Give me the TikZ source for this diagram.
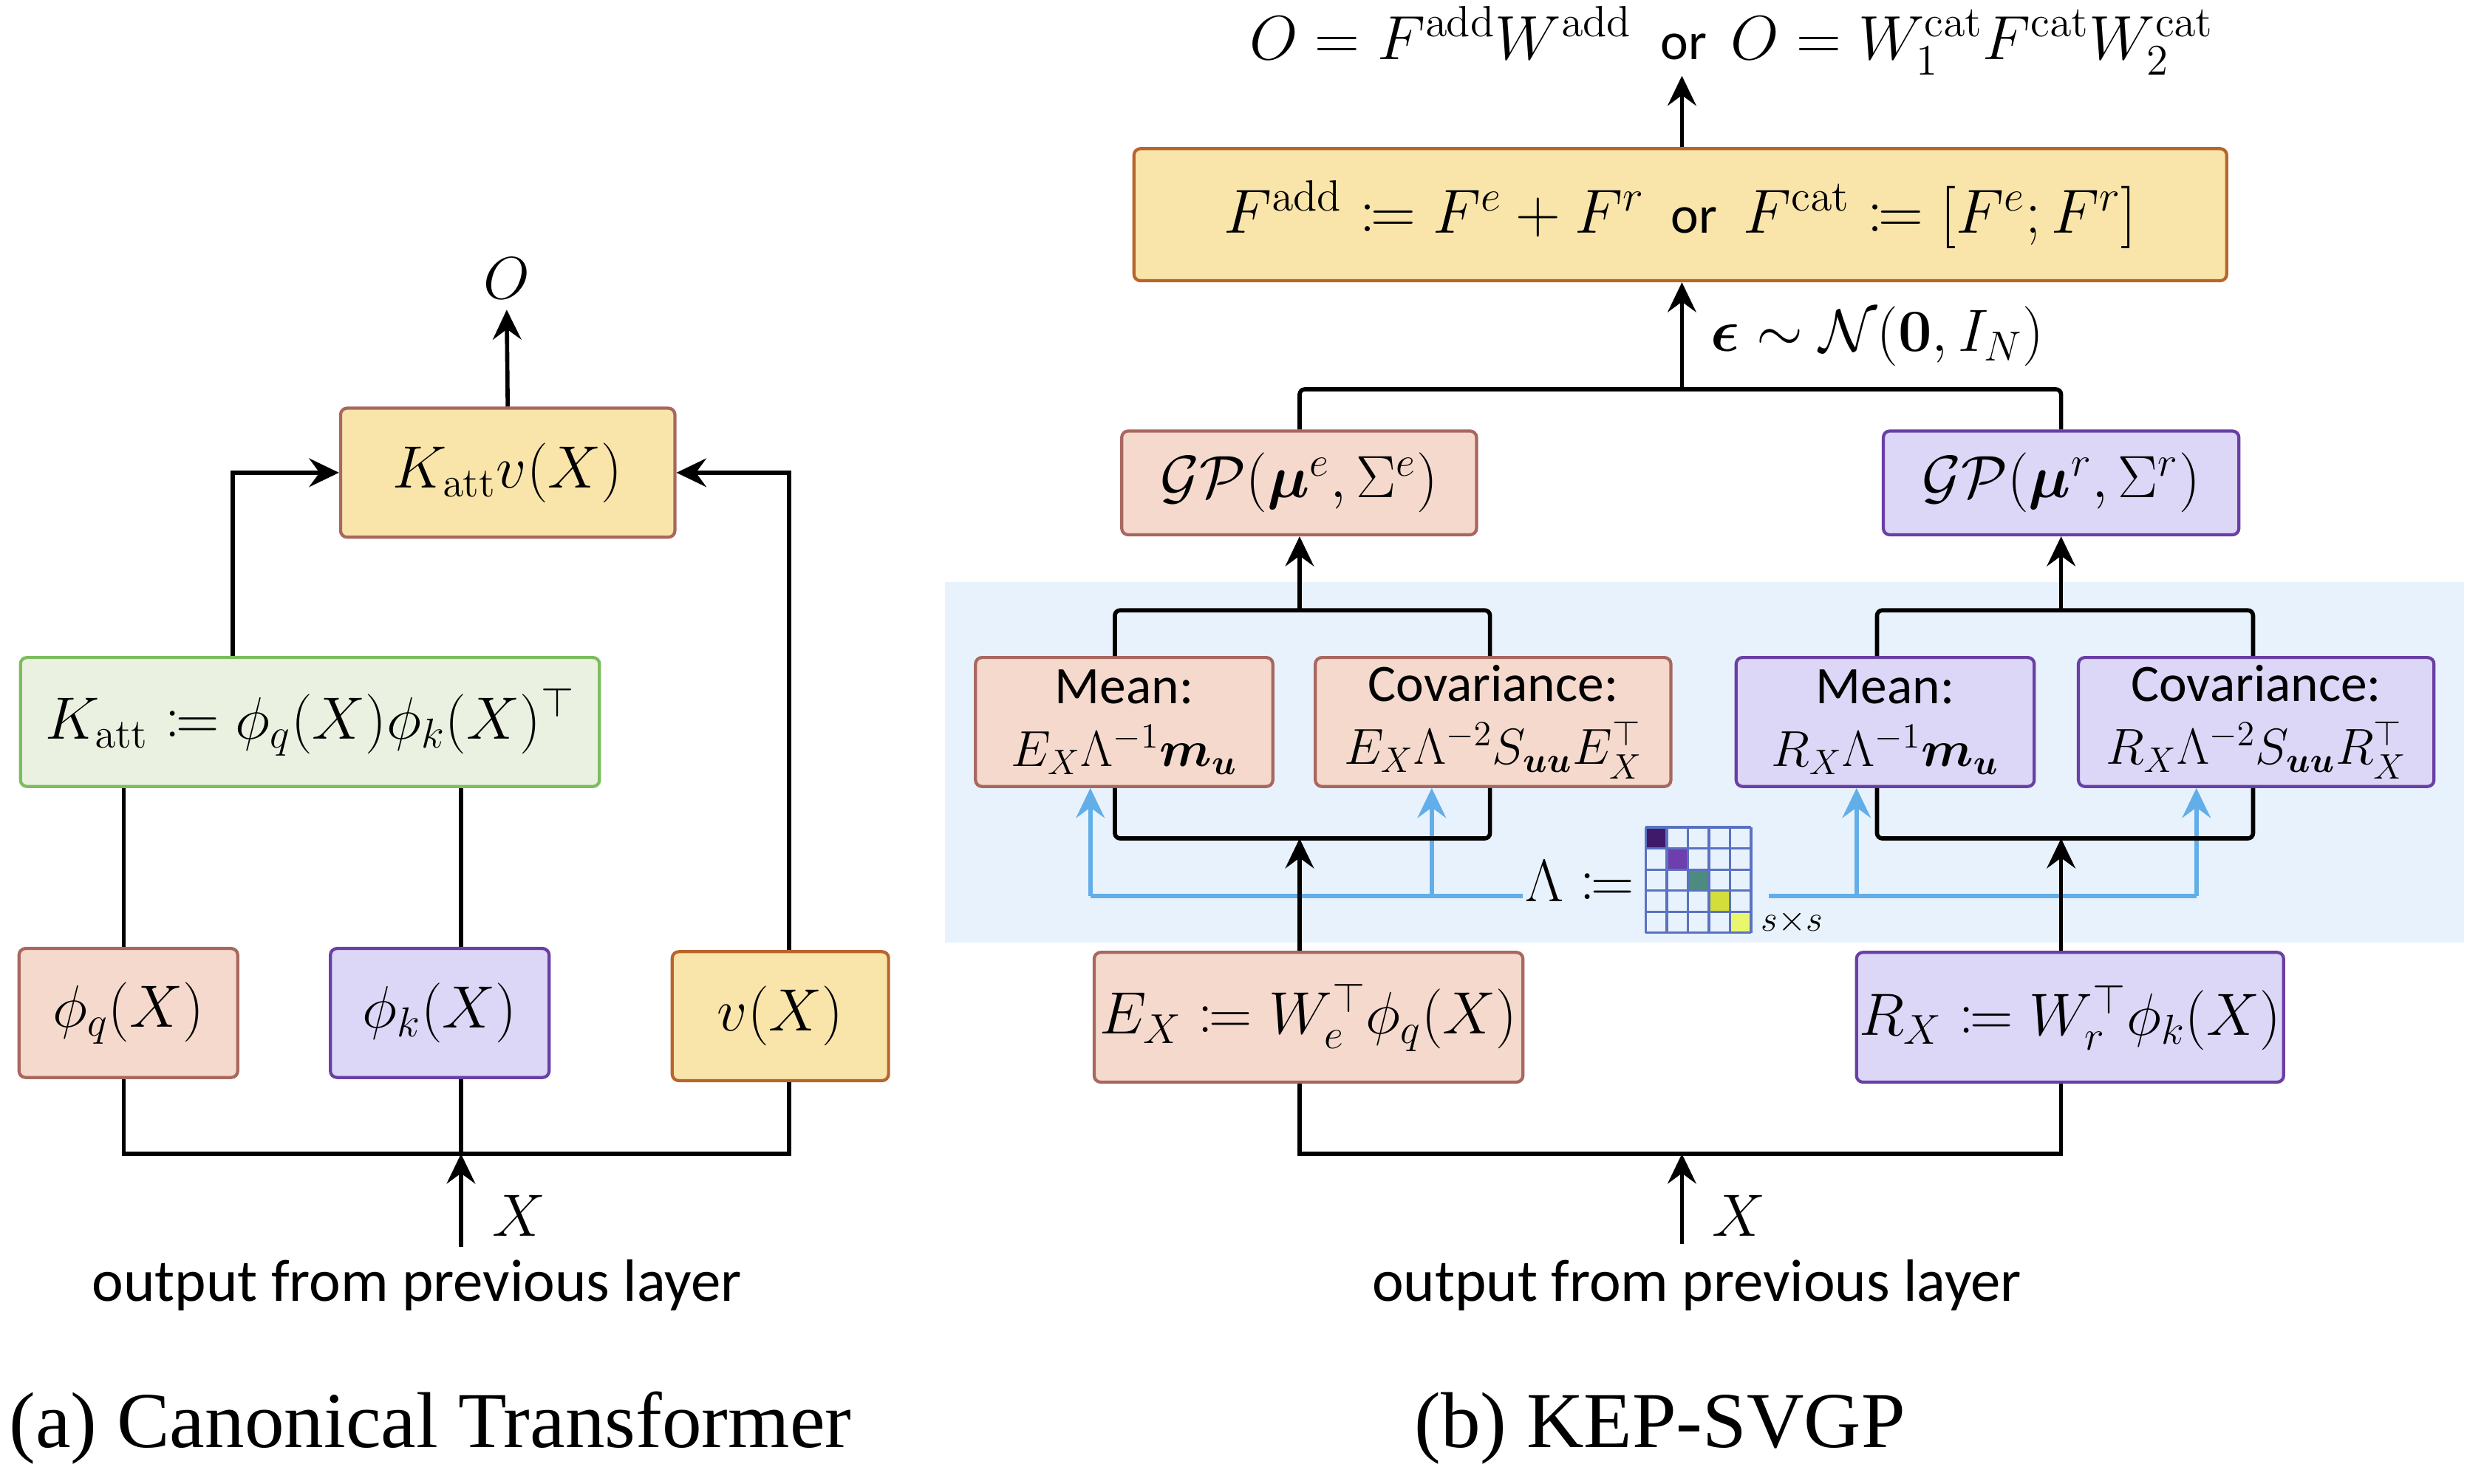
\RequirePackage{fix-cm}
\documentclass[tikz,border=0pt]{standalone}
\usepackage{amsmath,mathtools,bm}
\usepackage[no-math]{fontspec}
\setmainfont{Carlito}
\newfontfamily\capfont{Liberation Serif}
\usetikzlibrary{arrows.meta}
\definecolor{salF}{HTML}{F5D9CD}
\definecolor{salD}{HTML}{A8675F}
\definecolor{lavF}{HTML}{DCD6F7}
\definecolor{lavD}{HTML}{6A3FA5}
\definecolor{yelF}{HTML}{F9E4AA}
\definecolor{orD}{HTML}{B8652C}
\definecolor{grnF}{HTML}{EBF1E1}
\definecolor{grnD}{HTML}{7CBD5E}
\definecolor{bgB}{HTML}{E8F2FC}
\definecolor{lnB}{HTML}{62AEE8}
\definecolor{grdB}{HTML}{5A72C0}
\definecolor{dA}{HTML}{3F1A6B}
\definecolor{dB}{HTML}{6E3DAE}
\definecolor{dC}{HTML}{4E8B7F}
\definecolor{dD}{HTML}{D4DE3A}
\definecolor{dE}{HTML}{EAF76E}
\tikzset{
  sz/.style 2 args={minimum width=#1*0.6056pt, minimum height=#2*0.6056pt},
  box/.style={draw, rounded corners=2.5pt, line width=1.2pt, inner sep=0pt, font=\fontsize{23}{27}\selectfont},
  salbox/.style={box, fill=salF, draw=salD},
  lavbox/.style={box, fill=lavF, draw=lavD},
  yelbox/.style={box, fill=yelF, draw=orD},
  katbox/.style={box, fill=yelF, draw=salD},
  grnbox/.style={box, fill=grnF, draw=grnD},
  twoline/.style={align=center, font=\fontsize{20.3}{24.2}\selectfont},
  mfont/.style={font=\fontsize{23}{27}\selectfont},
  tfont/.style={font=\fontsize{20.3}{24}\selectfont},
  conn/.style={line width=1.6pt, black},
  tip/.tip={Stealth[length=11.5pt,width=11pt,inset=4pt]},
  arr/.style={conn, -tip},
  bline/.style={line width=1.6pt, lnB},
  barr/.style={bline, -tip},
  lbl/.style={inner sep=0pt},
}
\newcommand{\mm}[1]{{\fontsize{24}{28}\selectfont$#1$}}
\newcommand{\ms}[1]{{\fontsize{19.5}{24}\selectfont$#1$}}
\begin{document}
\begin{tikzpicture}[x=0.6056pt,y=-0.6056pt]
\useasboundingbox (0,0) rectangle (1568,943.4);
% ---------- (a) ----------
\node[katbox, sz={212.5}{82}] (katt) at (322.7,300.5) {$K_{\mathrm{att}}v(X)$};
\node[lbl, mfont] (Oa) at (322,177) {$O$};
\node[grnbox, sz={368}{82}] (kdef) at (197,459) {$K_{\mathrm{att}} \coloneqq \phi_q(X)\phi_k(X)^{\top}$};
\node[salbox, sz={139}{82}] (phiq) at (81.6,644) {$\phi_q(X)$};
\node[lavbox, sz={139}{82}] (phik) at (279.5,644) {$\phi_k(X)$};
\node[yelbox, sz={137.5}{82}] (vx) at (496,646) {$v(X)$};
\coordinate (busL) at (293,733.5);
\coordinate (inL) at (293,792.5);
\node[lbl, mfont] (XL) at (330,773) {$X$};
\node[lbl, font=\fontsize{23}{27}\selectfont] (outL) at (265,817) {output from previous layer};
\node[lbl, font=\capfont\fontsize{30.5}{34}\selectfont] (capA) at (273.5,908) {(a) Canonical Transformer};

\draw[arr, shorten >=4pt] (katt.north) -- (Oa.south);
\draw[arr] (kdef.north -| 148,0) |- (katt.west);
\draw[arr] (vx.north -| 501.5,0) |- (katt.east);
\draw[conn] (phiq.north -| 78.6,0) -- (kdef.south -| 78.6,0);
\draw[conn] (phik.north -| busL) -- (kdef.south -| busL);
\draw[conn] (phiq.south -| 78.6,0) |- (busL) -| (vx.south -| 501.5,0);
\draw[conn] (phik.south -| busL) -- (busL);
\draw[arr] (inL) -- (busL);

% ---------- (b) ----------
\fill[bgB] (600.4,370) rectangle (1566,599);
\node[lbl, tfont] (topf) at (1100.5,26) {\mm{O = F^{\mathrm{add}}W^{\mathrm{add}}}\hspace{0.55em}or\hspace{0.45em}\mm{O = W_1^{\mathrm{cat}}F^{\mathrm{cat}}W_2^{\mathrm{cat}}}};
\node[yelbox, sz={694.5}{84}, tfont] (Fbox) at (1068,136.5) {\mm{F^{\mathrm{add}} \coloneqq F^e + F^r}\hspace{0.5em}or\hspace{0.5em}\mm{F^{\mathrm{cat}} \coloneqq [F^e; F^r]}};
\node[lbl, mfont, anchor=west] (eps) at (1087,214) {$\bm{\epsilon} \sim \mathcal{N}(\mathbf{0}, I_N)$};
\node[salbox, sz={225.5}{66}] (gpL) at (825.7,307) {$\mathcal{G}\mathcal{P}(\bm{\mu}^e, \Sigma^e)$};
\node[lavbox, sz={226}{66}] (gpR) at (1310,307) {$\mathcal{G}\mathcal{P}(\bm{\mu}^r, \Sigma^r)$};
\node[salbox, sz={189}{82}, twoline] (meanL) at (714.5,459) {Mean:\\\ms{E_X\Lambda^{-1}\bm{m}_{\bm{u}}}};
\node[salbox, sz={226}{82}, twoline] (covL) at (949,459) {Covariance:\\\ms{E_X\Lambda^{-2}S_{\bm{uu}}E_X^{\top}}};
\node[lavbox, sz={189.5}{82}, twoline] (meanR) at (1198.2,459) {Mean:\\\ms{R_X\Lambda^{-1}\bm{m}_{\bm{u}}}};
\node[lavbox, sz={226}{82}, twoline] (covR) at (1434,459) {Covariance:\\\ms{R_X\Lambda^{-2}S_{\bm{uu}}R_X^{\top}}};
\node[salbox, sz={272.5}{82.5}] (Ex) at (831.7,646.7) {$E_X \coloneqq W_e^{\top}\phi_q(X)$};
\node[lavbox, sz={271.5}{82.5}] (Rx) at (1315.7,646.7) {$R_X \coloneqq W_r^{\top}\phi_k(X)$};
\coordinate (busR) at (1069,733.5);
\coordinate (inR) at (1069,791);
\node[lbl, mfont] (XR) at (1105,773) {$X$};
\node[lbl, font=\fontsize{23}{27}\selectfont] (outR) at (1078.5,817) {output from previous layer};
\node[lbl, font=\capfont\fontsize{30.5}{34}\selectfont] (capB) at (1055,908) {(b) KEP-SVGP};

% Lambda matrix
\node[lbl, mfont] (lam) at (1004,560) {$\Lambda \coloneqq$};
\node[inner sep=0pt, sz={67}{67}] (mat) at (1079.5,559.5) {};
\foreach \i/\c in {0/dA,1/dB,2/dC,3/dD,4/dE}
  \fill[\c] (1046+\i*13.4,526+\i*13.4) rectangle ++(13.4,13.4);
\foreach \i in {0,...,5} {
  \draw[grdB, line width=0.95pt] (1046+\i*13.4,526) -- (1046+\i*13.4,593);
  \draw[grdB, line width=0.95pt] (1046,526+\i*13.4) -- (1113,526+\i*13.4);
}
\node[lbl, font=\fontsize{14}{16}\selectfont] (sxs) at (1139,586) {$s{\times}s$};

% blue connectors
\coordinate (blL) at (968,569.5);
\coordinate (bl1) at (693,569.5);
\coordinate (bl2) at (910,569.5);
\coordinate (blR) at (1124,569.5);
\coordinate (bl3) at (1180,569.5);
\coordinate (bl4) at (1396,569.5);
\draw[bline] (blL) -- (bl1);
\draw[bline] (blR) -- (bl4);
\draw[barr] (bl1) -- (meanL.south -| bl1);
\draw[barr] (bl2) -- (covL.south -| bl2);
\draw[barr] (bl3) -- (meanR.south -| bl3);
\draw[barr] (bl4) -- (covR.south -| bl4);

% black connectors (b)
\coordinate (brLlow) at (826,533);
\coordinate (brLup) at (826,388);
\coordinate (brRlow) at (1310,533);
\coordinate (brRup) at (1310,388);
\coordinate (barC) at (1069,247.5);
\draw[conn] (Ex.south -| brLlow) |- (busR) -| (Rx.south -| brRlow);
\draw[arr] (inR) -- (busR);
\draw[arr] (Ex.north -| brLlow) -- (brLlow);
\draw[arr] (Rx.north -| brRlow) -- (brRlow);
\draw[conn, rounded corners=2pt] (meanL.south -| 708.6,0) |- (brLlow) -| (covL.south -| 947,0);
\draw[conn, rounded corners=2pt] (meanL.north -| 708.6,0) |- (brLup) -| (covL.north -| 947,0);
\draw[conn, rounded corners=2pt] (meanR.south -| 1193,0) |- (brRlow) -| (covR.south -| 1432,0);
\draw[conn, rounded corners=2pt] (meanR.north -| 1193,0) |- (brRup) -| (covR.north -| 1432,0);
\draw[arr] (brLup) -- (gpL.south -| brLup);
\draw[arr] (brRup) -- (gpR.south -| brRup);
\draw[conn, rounded corners=2pt] (gpL.north -| brLup) |- (barC) -| (gpR.north -| brRup);
\draw[arr] (barC) -- (Fbox.south -| barC);
\draw[arr] (Fbox.north -| barC) -- (topf.south -| barC) ;
\end{tikzpicture}
\end{document}
